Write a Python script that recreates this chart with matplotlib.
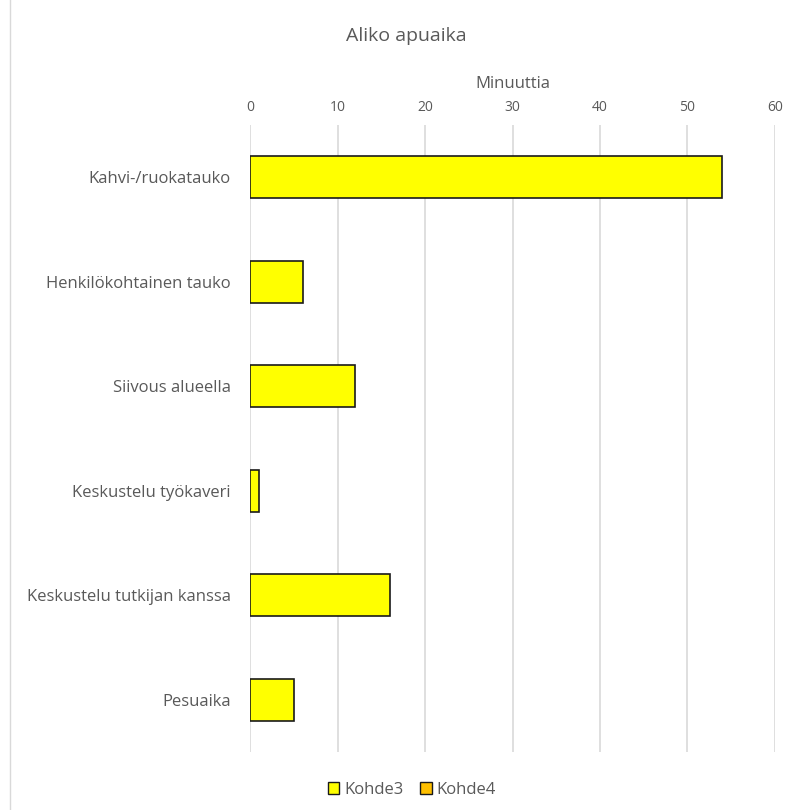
import numpy as np
import matplotlib
matplotlib.use("Agg")
import matplotlib.pyplot as plt
from matplotlib.patches import Patch

plt.rcParams['font.family'] = ['Open Sans', 'DejaVu Sans']

# data
categories = ["Kahvi-/ruokatauko", "Henkilökohtainen tauko", "Siivous alueella",
              "Keskustelu työkaveri", "Keskustelu tutkijan kanssa", "Pesuaika"]
kohde3 = [54, 6, 12, 1, 16, 5]
series_names = ["Kohde3", "Kohde4"]
series_colors = ["#FFFF00", "#FFC000"]
xticks = [0, 10, 20, 30, 40, 50, 60]

txt = "#595959"

fig = plt.figure(figsize=(7.92, 8.10), dpi=100)
ax = fig.add_axes([0.3157, 0.0716, 0.9785 - 0.3157, 0.8457 - 0.0716])

y = np.arange(len(categories))
ax.barh(y, kohde3, height=0.4, color=series_colors[0], edgecolor="#1a1a1a", linewidth=1.2, zorder=3)

ax.set_xlim(0, 60)
ax.set_ylim(len(categories) - 0.5, -0.5)
ax.set_xticks(xticks)
ax.xaxis.tick_top()
ax.xaxis.set_label_position("top")
ax.set_xlabel("Minuuttia", fontsize=12, color=txt, labelpad=9)
ax.tick_params(axis='x', length=0, labelsize=10, labelcolor=txt, pad=7)
ax.set_yticks(y)
ax.set_yticklabels(categories)
ax.tick_params(axis='y', length=0, labelsize=12, labelcolor=txt, pad=14)
ax.grid(axis='x', color="#d9d9d9", linewidth=1.2, zorder=0)
for s in ax.spines.values():
    s.set_visible(False)

fig.text(0.513, 0.955, "Aliko apuaika", ha='center', va='center', fontsize=14, color=txt)

handles = [Patch(facecolor=c, edgecolor="#1a1a1a", label=n) for c, n in zip(series_colors, series_names)]
fig.legend(handles=handles, loc='center', bbox_to_anchor=(0.52, 0.025), ncol=2, frameon=False,
           fontsize=12, labelcolor=txt, handlelength=0.7, handleheight=0.7, handletextpad=0.3,
           columnspacing=1.0)

# outer border
fig.patches.append(plt.Rectangle((0.012, -0.01), 1.0, 1.02, transform=fig.transFigure,
                                 fill=False, edgecolor="#d9d9d9", linewidth=1))

fig.savefig("out.png", dpi=100)
